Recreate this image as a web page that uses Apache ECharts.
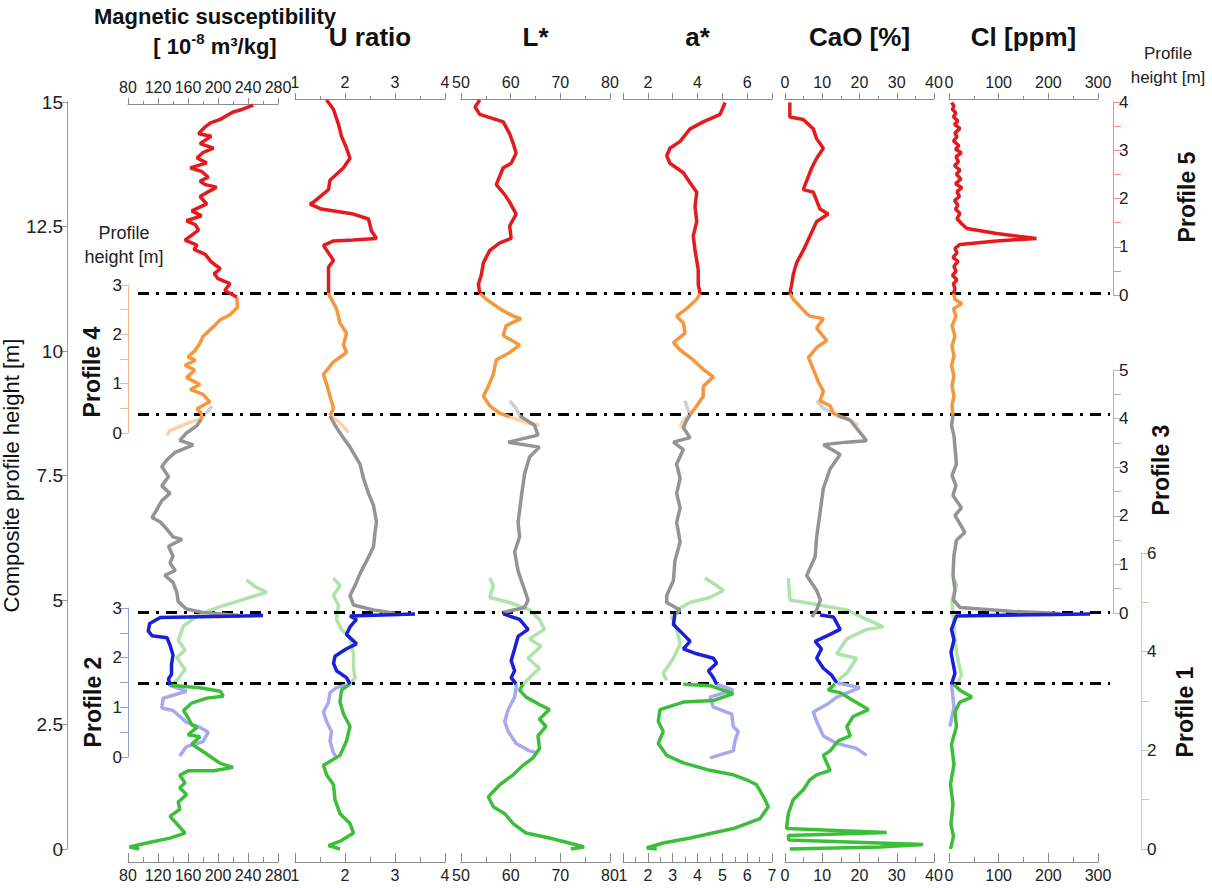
<!DOCTYPE html>
<html>
<head>
<meta charset="UTF-8">
<title>Composite profile</title>
<script src="https://cdn.jsdelivr.net/npm/echarts@6/dist/echarts.min.js"></script>
<style type="text/css">
   body{
      margin:0;
      background-color:#ffffff;
   }
   #main{
      width:1212px;
      height:888px;
   }
</style>
</head>
<body>
<div id="main"></div>
<script type="text/javascript">
// composite heights [m] of the dash-dot boundaries between profiles
var boundaries = [11.16, 8.72, 4.76, 3.33];

// each point: [value, composite height in m]
// magnetic susceptibility
var magP5 = [[247,15.04],[232,14.95],[220,14.9],[203,14.75],[190,14.68],[183,14.6],[174,14.46],[191,14.41],[176,14.26],[194,14.17],[180,14.08],[172,13.97],[185,13.87],[163,13.77],[178,13.7],[187,13.58],[176,13.5],[183,13.43],[198,13.38],[176,13.19],[185,13.04],[165,12.9],[178,12.8],[158,12.7],[170,12.62],[174,12.51],[156,12.31],[172,12.21],[168,12.12],[183,12.02],[191,11.87],[203,11.73],[195,11.63],[200,11.53],[216,11.43],[209,11.29],[225,11.16]];
var magP4 = [[225,11.16],[226,10.95],[216,10.8],[203,10.7],[194,10.56],[180,10.36],[175,10.2],[169,10.07],[160,9.95],[170,9.88],[156,9.78],[169,9.68],[158,9.53],[176,9.39],[163,9.29],[180,9.19],[189,9.04],[172,8.9],[178,8.8],[178,8.7]];
var magP4b = [[178,8.7],[158,8.6],[136,8.46],[132,8.36]];
var magP3a = [[178,8.7],[185,8.83],[192,8.95]];
var magP3 = [[178,8.7],[172,8.56],[158,8.41],[149,8.26],[167,8.17],[143,8.02],[132,7.87],[125,7.73],[134,7.53],[125,7.34],[136,7.19],[125,7.04],[118,6.85],[112,6.7],[123,6.61],[132,6.46],[140,6.31],[152,6.26],[134,6.12],[140,5.92],[136,5.78],[143,5.63],[129,5.53],[140,5.39],[145,5.19],[147,5.0],[158,4.85],[180,4.78],[212,4.74],[229,4.72]];
var magP1a = [[238,5.44],[250,5.3],[265,5.19],[243,5.09],[225,5.0],[203,4.9],[176,4.75],[154,4.51],[147,4.22],[156,4.02],[145,3.87],[156,3.63],[147,3.44],[136,3.31]];
var magP2 = [[260,4.72],[123,4.68],[109,4.56],[107,4.41],[112,4.31],[132,4.27],[136,4.12],[140,3.92],[138,3.73],[138,3.53],[134,3.44],[136,3.31]];
var magP2b = [[136,3.31],[158,3.19],[127,3.05],[125,2.85],[140,2.8],[158,2.56],[176,2.46],[187,2.36],[180,2.17],[158,2.07],[149,1.88]];
var magP1 = [[136,3.31],[176,3.26],[203,3.19],[207,3.09],[185,3.05],[165,2.95],[154,2.8],[160,2.66],[165,2.51],[172,2.46],[160,2.31],[176,2.27],[165,2.12],[180,1.97],[203,1.73],[220,1.65],[194,1.58],[160,1.58],[149,1.49],[156,1.34],[149,1.24],[158,1.1],[147,0.95],[149,0.8],[136,0.66],[145,0.51],[156,0.32],[136,0.22],[105,0.12],[82,0.04],[95,0]];

// U ratio
var uP5 = [[1.63,15.04],[1.7,14.95],[1.77,14.85],[1.82,14.7],[1.87,14.55],[1.93,14.31],[2.02,14.1],[2.1,13.87],[1.97,13.68],[1.7,13.43],[1.67,13.24],[1.37,12.99],[1.3,12.95],[1.53,12.85],[2.17,12.75],[2.47,12.65],[2.53,12.41],[2.63,12.26],[2.17,12.23],[1.77,12.21],[1.57,12.12],[1.67,11.97],[1.77,11.82],[1.67,11.68],[1.67,11.43],[1.67,11.16]];
var uP4 = [[1.67,11.16],[1.7,11.09],[1.83,10.85],[1.9,10.56],[2.03,10.36],[1.97,10.12],[2.03,9.97],[1.77,9.78],[1.57,9.53],[1.63,9.34],[1.7,9.09],[1.77,8.85],[1.7,8.7]];
var uP4b = [[1.7,8.7],[1.9,8.56],[2.07,8.36]];
var uP3a = [];
var uP3 = [[1.7,8.7],[1.8,8.51],[1.93,8.31],[2.1,8.07],[2.3,7.73],[2.37,7.44],[2.47,7.14],[2.57,6.9],[2.63,6.56],[2.6,6.36],[2.57,6.07],[2.43,5.78],[2.3,5.53],[2.2,5.29],[2.1,5.09],[2.17,4.9],[2.57,4.8],[2.9,4.75],[3.0,4.73]];
var uP1a = [[1.77,5.44],[1.9,5.29],[1.77,5.09],[1.87,4.9],[1.83,4.61],[1.93,4.41],[2.1,4.22],[2.17,3.92],[2.17,3.63],[2.2,3.44],[2.1,3.31]];
var uP2 = [[3.4,4.72],[2.1,4.68],[2.23,4.61],[2.1,4.46],[2.03,4.31],[2.23,4.12],[2.03,4.02],[1.8,3.87],[1.77,3.73],[1.83,3.58],[2.03,3.44],[2.1,3.31]];
var uP2b = [[2.1,3.31],[1.83,3.24],[1.7,3.14],[1.67,2.95],[1.57,2.75],[1.63,2.56],[1.73,2.36],[1.7,2.17],[1.77,1.93],[1.83,1.83]];
var uP1 = [[2.1,3.31],[1.93,3.19],[1.9,2.95],[1.97,2.71],[2.1,2.46],[2.03,2.17],[1.9,1.88],[1.57,1.68],[1.63,1.49],[1.77,1.29],[1.8,0.99],[1.9,0.71],[2.1,0.51],[2.17,0.32],[1.93,0.17],[1.67,0.07],[1.9,0]];

// L*
var lP5 = [[53.8,15.04],[52.8,14.9],[53.8,14.75],[58.5,14.6],[59.8,14.36],[60.5,14.17],[61.1,13.97],[60.1,13.77],[58.5,13.68],[57.1,13.34],[58.8,13.14],[59.8,12.99],[61.1,12.75],[59.8,12.51],[60.1,12.26],[57.8,12.17],[55.8,12.02],[54.5,11.77],[54.1,11.53],[53.5,11.34],[53.8,11.16]];
var lP4 = [[53.8,11.16],[55.1,11.04],[57.8,10.85],[60.5,10.7],[62.1,10.65],[59.1,10.51],[58.5,10.31],[61.8,10.12],[59.8,9.97],[57.1,9.82],[56.5,9.53],[55.5,9.29],[54.5,9.09],[55.8,8.9],[57.8,8.75],[59.8,8.68]];
var lP4b = [[59.8,8.68],[63.1,8.56],[65.8,8.51]];
var lP3a = [[59.8,9.0],[61.1,8.85],[61.8,8.7]];
var lP3 = [[61.8,8.7],[64.8,8.51],[65.5,8.31],[59.5,8.17],[65.8,8.07],[63.8,7.87],[62.8,7.53],[62.1,7.04],[61.5,6.56],[61.8,6.27],[60.8,5.97],[61.5,5.58],[62.5,5.29],[63.5,5.0],[62.8,4.85],[58.5,4.75]];
var lP1a = [[55.8,5.44],[56.5,5.29],[55.8,5.05],[59.8,4.95],[63.8,4.8],[65.8,4.61],[66.8,4.41],[63.8,4.22],[66.1,4.07],[63.5,3.83],[65.8,3.63],[63.8,3.44],[62.5,3.31]];
var lP2 = [[58.5,4.72],[61.8,4.61],[63.5,4.41],[61.5,4.27],[60.8,4.02],[60.1,3.78],[60.8,3.58],[60.1,3.44],[61.1,3.31]];
var lP2b = [[61.1,3.31],[61.1,3.24],[60.8,3.05],[59.5,2.8],[58.8,2.56],[59.5,2.36],[61.1,2.12],[63.8,1.97],[65.5,1.93]];
var lP1 = [[62.5,3.31],[61.8,3.19],[63.1,3.05],[65.8,2.9],[67.8,2.8],[65.8,2.61],[67.1,2.46],[65.5,2.27],[65.8,2.02],[64.5,1.83],[62.5,1.68],[60.5,1.49],[57.8,1.29],[55.5,1.05],[56.5,0.85],[58.8,0.71],[60.5,0.51],[63.1,0.32],[67.8,0.22],[71.8,0.12],[74.8,0.04],[72.1,0]];

// a*
var aP5 = [[5.11,14.99],[4.91,14.75],[4.23,14.6],[3.7,14.46],[3.3,14.21],[2.89,14.07],[2.76,13.92],[2.89,13.77],[3.43,13.58],[3.7,13.38],[3.97,13.19],[3.9,12.9],[3.97,12.6],[3.83,12.31],[3.9,12.02],[4.03,11.63],[4.03,11.34],[4.1,11.16]];
var aP4 = [[4.1,11.16],[3.97,11.04],[3.56,10.85],[3.16,10.7],[3.43,10.56],[3.5,10.36],[3.03,10.17],[3.3,10.02],[3.83,9.82],[4.23,9.63],[4.64,9.48],[4.23,9.29],[4.23,9.09],[3.97,8.9],[3.7,8.72]];
var aP4b = [[3.7,8.72],[3.43,8.61],[3.3,8.46]];
var aP3a = [[3.7,8.72],[3.56,8.9],[3.5,9.0]];
var aP3 = [[3.7,8.72],[3.55,8.6],[3.43,8.46],[3.7,8.26],[3.03,8.17],[3.43,8.02],[3.16,7.73],[3.3,7.44],[3.16,7.14],[3.3,6.85],[3.16,6.56],[3.3,6.17],[3.09,5.78],[3.03,5.39],[2.76,5.09],[2.76,4.95],[3.3,4.8],[3.16,4.72]];
var aP1a = [[4.3,5.44],[4.77,5.29],[5.04,5.19],[4.5,5.05],[3.7,4.95],[3.16,4.8],[2.96,4.66],[3.16,4.41],[3.3,4.12],[3.03,3.83],[2.62,3.53],[2.76,3.39]];
var aP2 = [[3.09,4.72],[3.03,4.51],[3.43,4.31],[3.7,4.17],[3.43,4.02],[3.97,3.92],[4.64,3.83],[4.77,3.73],[4.44,3.58],[4.64,3.44],[4.77,3.31]];
var aP2b = [[4.77,3.31],[5.44,3.19],[4.5,3.05],[4.64,2.85],[5.38,2.71],[5.44,2.46],[5.64,2.36],[5.51,2.17],[5.44,1.97],[4.5,1.83]];
var aP1 = [[3.43,3.31],[4.5,3.28],[5.44,3.12],[4.64,2.98],[3.43,2.95],[2.49,2.8],[2.42,2.56],[2.62,2.36],[2.42,2.12],[2.76,1.88],[3.43,1.73],[4.5,1.58],[5.44,1.49],[5.98,1.39],[6.38,1.29],[6.72,0.99],[6.85,0.85],[6.52,0.61],[5.44,0.41],[3.7,0.22],[2.62,0.12],[1.95,0.02],[2.36,0]];

// CaO
var cP5 = [[1.3,14.99],[1.3,14.7],[4.9,14.65],[7.6,14.46],[8.5,14.26],[10.3,14.07],[8.5,13.87],[7.2,13.68],[4.9,13.24],[7.6,13.19],[9.4,12.85],[11.6,12.75],[8.5,12.6],[6.7,12.31],[4.9,12.02],[3.1,11.77],[2.2,11.53],[1.8,11.34],[1.3,11.16]];
var cP4 = [[1.3,11.16],[2.2,11.04],[5.8,10.75],[6.7,10.7],[10.3,10.65],[8.5,10.46],[11.2,10.21],[8.5,10.07],[6.3,9.87],[7.6,9.63],[8.9,9.39],[10.3,9.19],[9.4,9.0],[12.1,8.9],[13,8.75],[14.3,8.7]];
var cP4b = [[14.3,8.7],[16.6,8.65],[19.7,8.51]];
var cP3a = [[8.5,9.0],[10.3,8.85],[14.3,8.7]];
var cP3 = [[14.3,8.7],[17.5,8.61],[21.9,8.2],[16.6,8.17],[10.3,8.12],[14.8,7.92],[12.1,7.63],[10.3,7.24],[9.4,6.75],[8.5,6.27],[8.1,5.87],[5.8,5.49],[8.5,5.19],[9.5,5.0],[8.5,4.8],[7.2,4.66]];
var cP1a = [[0.9,5.44],[1.3,5.0],[7.6,4.92],[16.6,4.8],[21.9,4.61],[26.4,4.46],[21.9,4.41],[16.6,4.22],[13.9,3.92],[19.2,3.83],[16.6,3.53],[14.3,3.39]];
var cP2 = [[9.4,4.7],[13,4.66],[14.8,4.41],[12.1,4.31],[8.1,4.17],[9.8,4.02],[8.5,3.83],[10.3,3.63],[12.5,3.49],[13.9,3.34]];
var cP2b = [[13.9,3.34],[20.1,3.24],[13.9,3.05],[11.2,2.9],[7.6,2.75],[8.5,2.56],[10.3,2.27],[13.9,2.12],[19.2,2.02],[21.9,1.88]];
var cP1 = [[13.4,3.31],[11.6,3.19],[14.8,3.14],[18.3,2.98],[22.4,2.8],[18.3,2.66],[16.6,2.46],[17.5,2.27],[14.3,2.17],[12.1,1.97],[10.3,1.88],[12.1,1.58],[8.5,1.49],[6.7,1.39],[4.9,1.19],[2.2,0.99],[0.9,0.71],[0.4,0.41],[27.3,0.33],[0.9,0.27],[1,0.18],[37.1,0.09],[25.5,0.04],[1.3,0]];

// Cl
var clP5 = [[5,14.99],[10,14.92],[7,14.85],[14,14.78],[9,14.7],[18,14.62],[11,14.55],[22,14.47],[12,14.38],[16,14.3],[9,14.22],[20,14.12],[13,14.05],[25,13.98],[14,13.9],[19,13.8],[11,13.72],[22,13.63],[15,13.55],[24,13.45],[13,13.36],[26,13.28],[16,13.2],[21,13.1],[11,13.02],[18,12.93],[13,12.85],[22,12.76],[16,12.66],[25,12.56],[36,12.46],[96,12.36],[176,12.26],[96,12.21],[22,12.14],[12,12.06],[16,11.97],[8,11.88],[18,11.8],[10,11.7],[14,11.6],[7,11.52],[16,11.43],[9,11.35],[12,11.25],[9,11.16]];
var clP4 = [[9,11.16],[12,11.04],[26,10.95],[9,10.85],[14,10.7],[6,10.5],[12,10.3],[6,10.1],[10,9.9],[5,9.7],[10,9.5],[6,9.3],[10,9.1],[6,8.9],[8,8.7]];
var clP4b = [];
var clP3a = [];
var clP3 = [[8,8.7],[5,8.5],[10,8.3],[15,7.73],[6,7.5],[14,7.3],[8,7.1],[25,6.85],[12,6.7],[32,6.36],[15,6.2],[10,5.9],[8,5.5],[12,5.2],[9,5.0],[22,4.85],[130,4.77],[223,4.73]];
var clP1a = [[9,5.44],[15,5.3],[6,5.0],[9,4.6],[12,4.2],[16,3.9],[25,3.49],[18,3.35]];
var clP2 = [[284,4.72],[15,4.68],[5,4.41],[10,4.2],[4,3.95],[12,3.53],[5,3.31]];
var clP2b = [[5,3.31],[10,2.85],[2,2.46]];
var clP1 = [[9,3.31],[22,3.19],[46,3.05],[22,2.95],[12,2.75],[15,2.46],[5,2.1],[10,1.7],[3,1.3],[8,0.9],[4,0.5],[9,0.25],[3,0]];

var FONT = '"Liberation Sans", Arial, sans-serif';
var colors = {
   p5:'#e31b1f', p4:'#f5973c', p4lt:'#fbd2ad', p3:'#949494', p3lt:'#d0d0d0',
   p1:'#3dbe3a', p1lt:'#aee3a9', p2:'#1a1fd9', p2lt:'#a6a9ef'
};
// draw order: faded parts first, strong parts on top
var order = ['p4lt','p3lt','p1lt','p2lt','p3','p4','p5','p1','p2'];

var panels = [
   {title:'Magnetic susceptibility', min:80, max:280, left:128, width:150, step:40, topStep:40,
    data:[magP4b, magP3a, magP1a, magP2b, magP3, magP4, magP5, magP1, magP2]},
   {title:'U ratio', min:1, max:4, left:295, width:150, step:1, topStep:1,
    data:[uP4b, uP3a, uP1a, uP2b, uP3, uP4, uP5, uP1, uP2]},
   {title:'L*', min:50, max:80, left:461, width:149, step:10, topStep:10,
    data:[lP4b, lP3a, lP1a, lP2b, lP3, lP4, lP5, lP1, lP2]},
   {title:'a*', min:1, max:7, left:623, width:149, step:1, topStep:1, evenOnly:true,
    data:[aP4b, aP3a, aP1a, aP2b, aP3, aP4, aP5, aP1, aP2]},
   {title:'CaO [%]', min:0, max:40, left:785, width:149, step:10, topStep:10,
    data:[cP4b, cP3a, cP1a, cP2b, cP3, cP4, cP5, cP1, cP2]},
   {title:'Cl [ppm]', min:0, max:300, left:949, width:149, step:100, topStep:100,
    data:[clP4b, clP3a, clP1a, clP2b, clP3, clP4, clP5, clP1, clP2]}
];

var sides = [
   {name:'Profile 4', x:128, top:285, bottom:433, max:3, step:1, color:'#f7b98a', pos:'left'},
   {name:'Profile 2', x:128, top:608, bottom:757, max:3, step:1, color:'#9a9ce0', pos:'left'},
   {name:'Profile 5', x:1113, top:102, bottom:295, max:4, step:1, color:'#f08c8c', pos:'right'},
   {name:'Profile 3', x:1113, top:370, bottom:613, max:5, step:1, color:'#b4b4b4', pos:'right'},
   {name:'Profile 1', x:1141, top:553, bottom:849, max:6, step:2, color:'#a9dca6', pos:'right'}
];

var TOP = 102, HEIGHT = 747;
var AXIS_GRAY = '#8a8a8a';
var grids = [], xAxes = [], yAxes = [], series = [];

function hiddenX(g){ return {type:'value', gridIndex:g, show:false, min:0, max:1}; }

panels.forEach(function(p, i){
   grids.push({left:p.left, top:TOP, width:p.width, height:HEIGHT});
   var axisLine = {show:true, onZero:false, lineStyle:{color:AXIS_GRAY, width:1}};
   var topAxis = {
      type:'value', gridIndex:i, position:'top', offset:3,
      min:p.min, max:p.max, interval:p.topStep,
      axisLine:axisLine,
      axisTick:{show:true, inside:false, length:6, lineStyle:{color:AXIS_GRAY}},
      minorTick:{show:!p.evenOnly, splitNumber:2, length:3, lineStyle:{color:AXIS_GRAY}},
      splitLine:{show:false},
      axisLabel:{fontSize:16, color:'#222', fontFamily:FONT, margin:9,
         formatter:function(v){ return (p.evenOnly && v % 2 !== 0) ? '' : String(v); }},
      name:p.title, nameLocation:'middle', nameGap:49,
      nameTextStyle:{fontSize:26, fontWeight:'bold', color:'#111', fontFamily:FONT}
   };
   if (i === 0) {
      topAxis.name = '{t|Magnetic susceptibility}\n{b|[ 10}{s|-8}{b| m³/kg]}';
      topAxis.nameGap = 43;
      topAxis.nameTextStyle = {fontFamily:FONT, color:'#111', padding:[0,0,0,24],
         rich:{
            t:{fontSize:22, fontWeight:'bold', lineHeight:30, fontFamily:FONT, color:'#111'},
            b:{fontSize:22, fontWeight:'bold', lineHeight:30, fontFamily:FONT, color:'#111'},
            s:{fontSize:15, fontWeight:'bold', verticalAlign:'top', lineHeight:30, fontFamily:FONT, color:'#111'}
         }};
   }
   xAxes.push(topAxis);
   xAxes.push({
      type:'value', gridIndex:i, position:'bottom', offset:13,
      min:p.min, max:p.max, interval:p.step,
      axisLine:axisLine,
      axisTick:{show:true, inside:true, length:9, lineStyle:{color:AXIS_GRAY}},
      minorTick:{show:true, splitNumber:2, length:5, lineStyle:{color:AXIS_GRAY}},
      splitLine:{show:false},
      axisLabel:{fontSize:16, color:'#222', fontFamily:FONT, margin:5}
   });
   yAxes.push({type:'value', gridIndex:i, min:0, max:15, show:false});
   p.data.forEach(function(d, k){
      if (!d.length) return;
      series.push({
         type:'line', xAxisIndex:2*i, yAxisIndex:i, data:d,
         symbol:'none', clip:false, silent:true, animation:false,
         lineStyle:{color:colors[order[k]], width:3.5}, z:2 + k
      });
   });
});

// main composite height axis
var gMain = grids.length;
grids.push({left:66, top:TOP, width:1, height:HEIGHT});
xAxes.push(hiddenX(gMain));
yAxes.push({
   type:'value', gridIndex:gMain, position:'left', min:0, max:15, interval:2.5,
   axisLine:{show:true, onZero:false, lineStyle:{color:'#9a9a9a'}},
   axisTick:{show:true, length:7, lineStyle:{color:'#9a9a9a'}},
   splitLine:{show:false},
   axisLabel:{fontSize:19, color:'#222', fontFamily:FONT, margin:4},
   name:'Composite profile height [m]', nameLocation:'middle', nameGap:39, nameRotate:90,
   nameTextStyle:{fontSize:22, color:'#111', fontFamily:FONT}
});

// profile height axes
sides.forEach(function(s){
   var g = grids.length;
   grids.push({left:s.pos === 'left' ? s.x : s.x - 1, top:s.top, width:1, height:s.bottom - s.top});
   xAxes.push(hiddenX(g));
   yAxes.push({
      type:'value', gridIndex:g, position:s.pos, min:0, max:s.max, interval:s.step,
      axisLine:{show:true, onZero:false, lineStyle:{color:s.color}},
      axisTick:{show:true, length:8, lineStyle:{color:s.color}},
      minorTick:{show:true, splitNumber:2, length:8, lineStyle:{color:s.color}},
      splitLine:{show:false},
      axisLabel:{fontSize:17, color:'#222', fontFamily:FONT, margin:6}
   });
});

// dash-dot boundaries across all panels
var gOver = grids.length;
grids.push({left:138, top:TOP, width:972, height:HEIGHT});
xAxes.push(hiddenX(gOver));
yAxes.push({type:'value', gridIndex:gOver, min:0, max:15, show:false});
series.push({
   type:'line', xAxisIndex:xAxes.length - 1, yAxisIndex:yAxes.length - 1, data:[],
   silent:true, animation:false, z:20,
   markLine:{
      silent:true, symbol:'none', animation:false, label:{show:false},
      lineStyle:{color:'#000', width:3, type:[11,7,3,7]},
      data:boundaries.map(function(b){ return {yAxis:b}; })
   }
});

var nameLabels = [
   {text:'Profile 4', x:92, y:372}, {text:'Profile 2', x:93, y:702},
   {text:'Profile 5', x:1187, y:197}, {text:'Profile 3', x:1161, y:470},
   {text:'Profile 1', x:1185, y:712}
];
var graphics = nameLabels.map(function(n){
   return {type:'text', x:n.x, y:n.y, rotation:Math.PI / 2, silent:true,
      style:{text:n.text, fontSize:23, fontWeight:'bold', fontFamily:FONT, fill:'#111',
             align:'center', verticalAlign:'middle'}};
});
graphics.push({type:'text', x:124, y:245, silent:true,
   style:{text:'Profile\nheight [m]', fontSize:18, lineHeight:24, fontFamily:FONT, fill:'#222',
          align:'center', verticalAlign:'middle'}});
graphics.push({type:'text', x:1168, y:65, silent:true,
   style:{text:'Profile\nheight [m]', fontSize:17, lineHeight:24, fontFamily:FONT, fill:'#222',
          align:'center', verticalAlign:'middle'}});

var myChart = echarts.init(document.getElementById('main'), null, {renderer:'svg'});
myChart.setOption({
   animation:false,
   backgroundColor:'#ffffff',
   textStyle:{fontFamily:FONT},
   grid:grids,
   xAxis:xAxes,
   yAxis:yAxes,
   series:series,
   graphic:graphics
});
</script>
</body>
</html>
